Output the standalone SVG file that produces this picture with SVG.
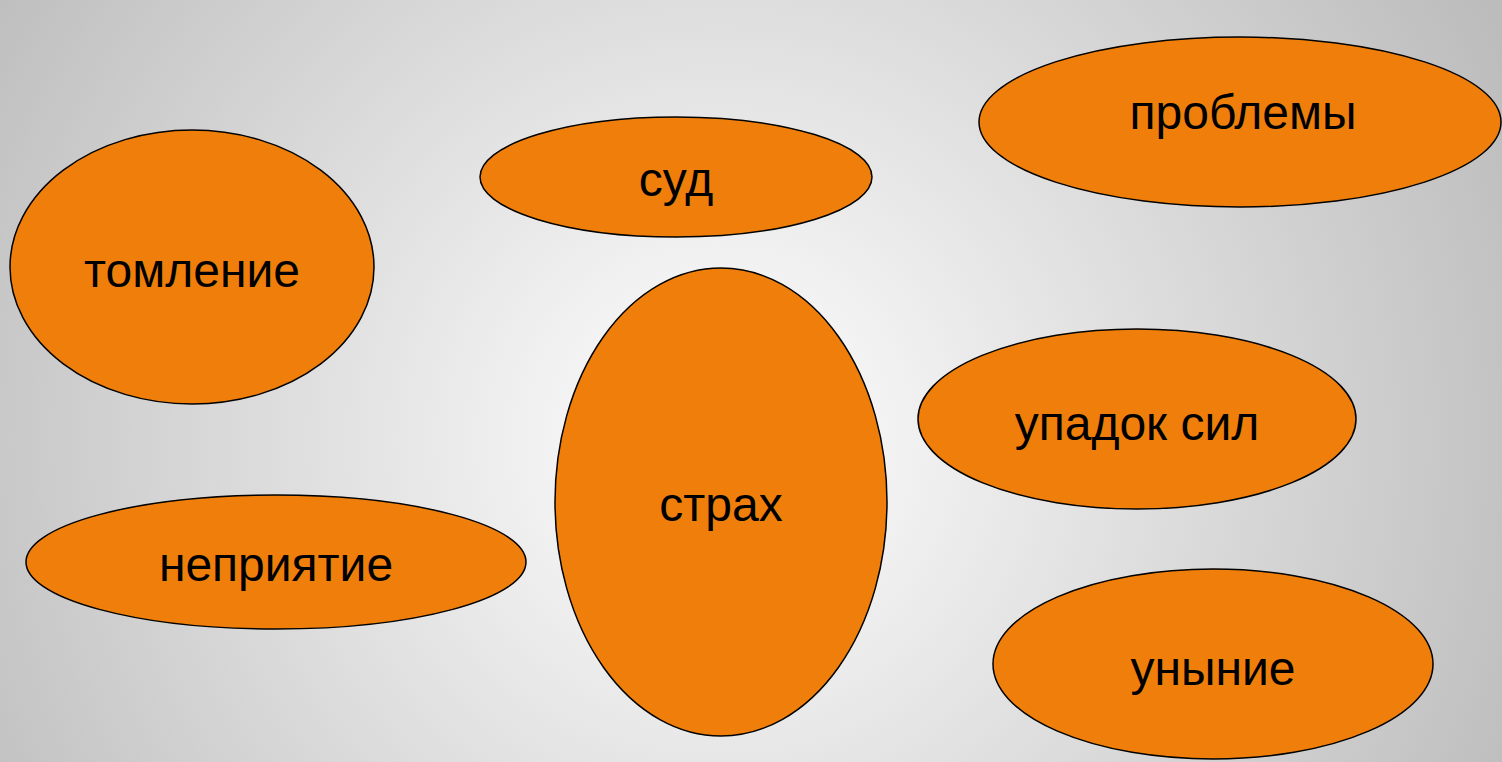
<svg xmlns="http://www.w3.org/2000/svg" width="1502" height="762" viewBox="0 0 1502 762">
<defs>
<radialGradient id="bg" gradientUnits="userSpaceOnUse" cx="720" cy="440" r="880">
<stop offset="0" stop-color="#ffffff"/>
<stop offset="1" stop-color="#bcbcbc"/>
</radialGradient>
<style>
.n{fill:#ef7f0a;stroke:#000;stroke-width:1.5}
.t{font-family:"Liberation Sans",Arial,sans-serif;font-size:48px;fill:#000;text-anchor:middle}
</style>
</defs>
<rect width="1502" height="762" fill="url(#bg)"/>
<g id="connectors"/>
<g id="n-tomlenie"><ellipse class="n" cx="192" cy="267" rx="182" ry="137"/><text class="t" x="192" y="287">томление</text></g>
<g id="n-sud"><ellipse class="n" cx="676" cy="177" rx="196" ry="60"/><text class="t" x="676" y="196">суд</text></g>
<g id="n-problemy"><ellipse class="n" cx="1240" cy="122" rx="261" ry="85"/><text class="t" x="1243" y="129">проблемы</text></g>
<g id="n-strakh"><ellipse class="n" cx="721" cy="502" rx="166" ry="234"/><text class="t" x="721" y="521">страх</text></g>
<g id="n-upadok"><ellipse class="n" cx="1137" cy="419" rx="219" ry="90"/><text class="t" x="1137" y="440">упадок сил</text></g>
<g id="n-nepriyatie"><ellipse class="n" cx="276" cy="562" rx="250" ry="67"/><text class="t" x="276" y="581">неприятие</text></g>
<g id="n-unynie"><ellipse class="n" cx="1213" cy="664" rx="220" ry="95"/><text class="t" x="1213" y="685">уныние</text></g>
</svg>
